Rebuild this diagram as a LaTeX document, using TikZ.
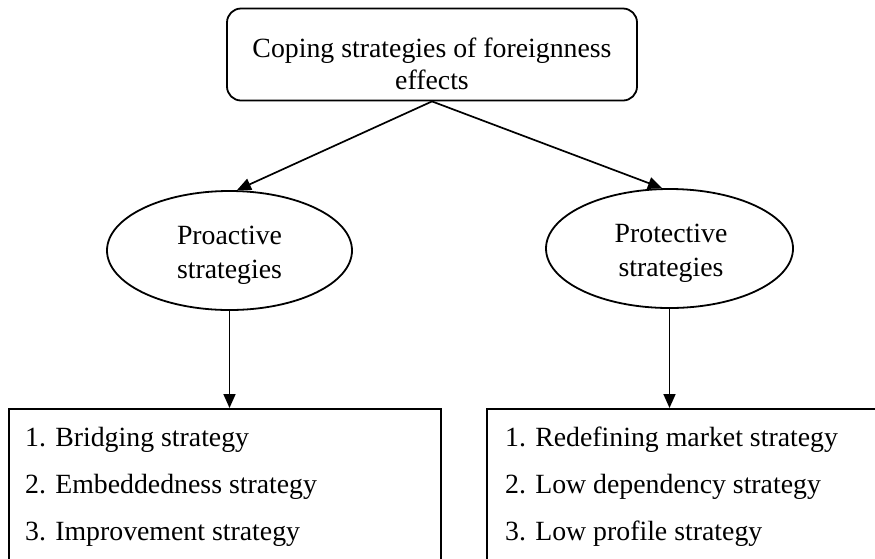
\documentclass[tikz,border=0pt]{standalone}
\usepackage{fontspec}
\setmainfont{Liberation Serif}
\usetikzlibrary{arrows.meta,shapes.geometric}
\begin{document}
\begin{tikzpicture}[x=1pt,y=-1pt,
  txt/.style={inner sep=0pt, font=\fontsize{27.8}{32}\selectfont},
  boxline/.style={draw, line width=1.8pt, inner sep=0pt},
  arr/.style={line width=1.7pt, -{Triangle[length=14pt,width=12pt]}}]
\useasboundingbox (0,0) rectangle (875,558);
% top box
\node[boxline, rounded corners=14pt, minimum width=410pt, minimum height=92pt] (top) at (432,54.5) {};
\node[txt, anchor=base] (t1) at (432,57) {Coping strategies of foreignness};
\node[txt, anchor=base] (t2) at (432,89) {effects};
% ellipses
\node[boxline, ellipse, minimum width=245pt, minimum height=119pt] (pro) at (229.5,250.5) {};
\node[txt, anchor=base] (p1) at (229.5,244) {Proactive};
\node[txt, anchor=base] (p2) at (229.5,278) {strategies};
\node[boxline, ellipse, minimum width=247pt, minimum height=119pt] (prot) at (669.5,248.5) {};
\node[txt, anchor=base] (q1) at (671,242) {Protective};
\node[txt, anchor=base] (q2) at (671,276) {strategies};
% bottom boxes
\node[boxline, minimum width=432pt, minimum height=180pt, anchor=north west] (B1) at (8,408) {};
\node[txt, anchor=base west] (b1) at (25,446) {1. Bridging strategy};
\node[txt, anchor=base west] (b2) at (25,493) {2. Embeddedness strategy};
\node[txt, anchor=base west] (b3) at (25,540) {3. Improvement strategy};
\node[boxline, minimum width=420pt, minimum height=180pt, anchor=north west] (B2) at (486,408) {};
\node[txt, anchor=base west] (c1) at (505,446) {1. Redefining market strategy};
\node[txt, anchor=base west] (c2) at (505,493) {2. Low dependency strategy};
\node[txt, anchor=base west] (c3) at (505,540) {3. Low profile strategy};
% connectors
\draw[arr] (top.south) -- ([xshift=7.5pt]pro.north);
\draw[arr] (top.south) -- ([xshift=-7.5pt]prot.north);
\draw[arr] (pro.south) -- (pro.south |- B1.north);
\draw[arr] (prot.south) -- (prot.south |- B2.north);
\end{tikzpicture}
\end{document}
